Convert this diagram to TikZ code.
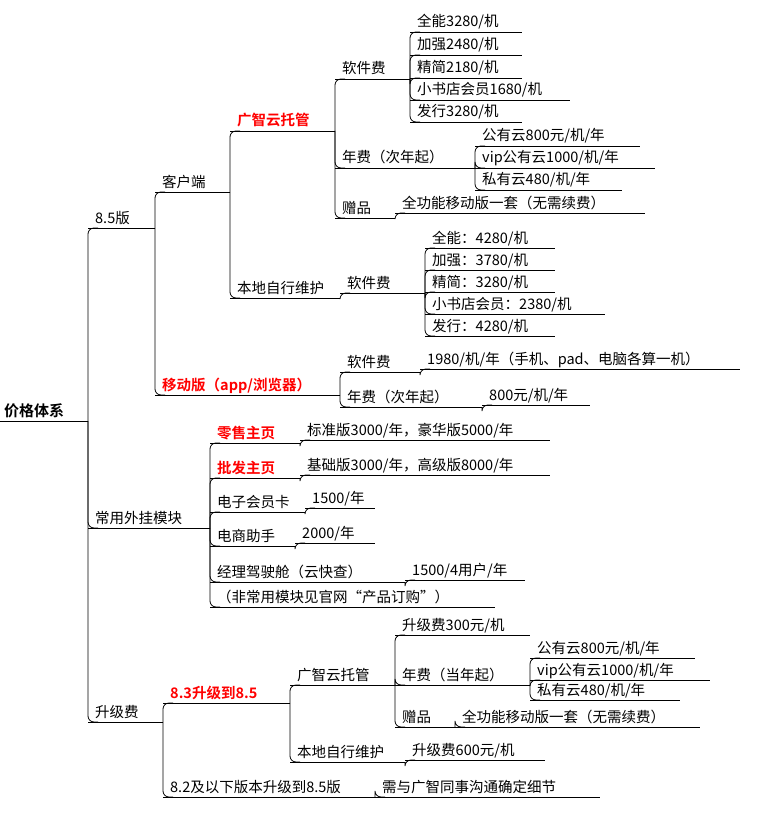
\documentclass[tikz,border=0pt]{standalone}
\usepackage{fontspec}
\setmainfont{Noto Sans CJK SC}[BoldFont={Noto Sans CJK SC Bold}]
\usetikzlibrary{calc}
\tikzset{
 lbl/.style={inner sep=0pt,font=\fontsize{14.5}{16}\selectfont,text=black},
 hot/.style={text=red,font=\fontsize{14.5}{16}\selectfont\bfseries},
 rootst/.style={font=\fontsize{15}{17}\selectfont\bfseries},
 ln/.style={draw=black,line width=0.8pt},
 cn/.style={draw=black,line width=0.8pt,rounded corners=6pt}
}
\newcommand\mi[6]{%
 \coordinate (#1-s) at (#2,#4); \coordinate (#1-e) at (#3,#4);
 \node[lbl,#5,anchor=base west] (#1) at (#2+7,#4-5) {#6};
 \draw[ln] (#1-s) -- (#1-e);}
\newcommand\cn[2]{\draw[cn] (#1-e) |- ($(#2-s)+(10,0)$);}
\begin{document}
\begin{tikzpicture}[x=1pt,y=-1pt]
\useasboundingbox (0,0) rectangle (758,829);
\node[lbl,rootst,anchor=base west] (root) at (4,416) {价格体系};
\coordinate (root-e) at (88,421); \draw[ln] (0,421) -- (root-e);
\mi{v85}{88}{155}{228}{}{8.5版}
\mi{plug}{88}{210}{528}{}{常用外挂模块}
\mi{upg}{88}{163}{722}{}{升级费}
\cn{root}{v85}\cn{root}{plug}\cn{root}{upg}
\mi{kh}{155}{230}{192}{}{客户端}
\mi{yd}{155}{340}{395}{hot}{移动版（app/浏览器）}
\cn{v85}{kh}\cn{v85}{yd}
\mi{gz}{230}{335}{131}{hot}{广智云托管}
\mi{bd}{230}{340}{298}{}{本地自行维护}
\cn{kh}{gz}\cn{kh}{bd}
\mi{rj}{335}{410}{79}{}{软件费}
\mi{nf}{335}{475}{168}{}{年费（次年起）}
\mi{zp}{335}{395}{218}{}{赠品}
\cn{gz}{rj}\cn{gz}{nf}\cn{gz}{zp}
\mi{a1}{410}{522}{32}{}{全能3280/机}
\mi{a2}{410}{522}{55}{}{加强2480/机}
\mi{a3}{410}{522}{78}{}{精简2180/机}
\mi{a4}{410}{570}{100}{}{小书店会员1680/机}
\mi{a5}{410}{522}{122}{}{发行3280/机}
\cn{rj}{a1}\cn{rj}{a2}\cn{rj}{a3}\cn{rj}{a4}\cn{rj}{a5}
\mi{b1}{475}{640}{146}{}{公有云800元/机/年}
\mi{b2}{475}{655}{168}{}{vip公有云1000/机/年}
\mi{b3}{475}{622}{190}{}{私有云480/机/年}
\cn{nf}{b1}\cn{nf}{b2}\cn{nf}{b3}
\mi{c1}{395}{645}{213}{}{全功能移动版一套（无需续费）}
\cn{zp}{c1}
\mi{rj2}{340}{425}{293}{}{软件费}
\cn{bd}{rj2}
\mi{d1}{425}{555}{248}{}{全能：4280/机}
\mi{d2}{425}{555}{270}{}{加强：3780/机}
\mi{d3}{425}{555}{292}{}{精简：3280/机}
\mi{d4}{425}{605}{314}{}{小书店会员：2380/机}
\mi{d5}{425}{555}{336}{}{发行：4280/机}
\cn{rj2}{d1}\cn{rj2}{d2}\cn{rj2}{d3}\cn{rj2}{d4}\cn{rj2}{d5}
\mi{rj3}{340}{420}{372}{}{软件费}
\mi{nf3}{340}{482}{407}{}{年费（次年起）}
\cn{yd}{rj3}\cn{yd}{nf3}
\mi{e1}{420}{740}{369}{}{1980/机/年（手机、pad、电脑各算一机）}
\mi{e2}{482}{590}{405}{}{800元/机/年}
\cn{rj3}{e1}\cn{nf3}{e2}
\mi{p1}{210}{300}{443}{hot}{零售主页}
\mi{p2}{210}{300}{478}{hot}{批发主页}
\mi{p3}{210}{305}{512}{}{电子会员卡}
\mi{p4}{210}{295}{546}{}{电商助手}
\mi{p5}{210}{405}{582}{}{经理驾驶舱（云快查）}
\mi{p6}{210}{495}{607}{}{（非常用模块见官网“产品订购”）}
\cn{plug}{p1}\cn{plug}{p2}\cn{plug}{p3}\cn{plug}{p4}\cn{plug}{p5}\cn{plug}{p6}
\mi{q1}{300}{550}{440}{}{标准版3000/年，豪华版5000/年}
\mi{q2}{300}{550}{475}{}{基础版3000/年，高级版8000/年}
\mi{q3}{305}{375}{508}{}{1500/年}
\mi{q4}{295}{375}{543}{}{2000/年}
\mi{q5}{405}{525}{580}{}{1500/4用户/年}
\cn{p1}{q1}\cn{p2}{q2}\cn{p3}{q3}\cn{p4}{q4}\cn{p5}{q5}
\mi{u1}{163}{290}{703}{hot}{8.3升级到8.5}
\mi{u2}{163}{375}{797}{}{8.2及以下版本升级到8.5版}
\cn{upg}{u1}\cn{upg}{u2}
\mi{g2}{290}{395}{685}{}{广智云托管}
\mi{l2}{290}{405}{762}{}{本地自行维护}
\cn{u1}{g2}\cn{u1}{l2}
\mi{h1}{395}{530}{635}{}{升级费300元/机}
\mi{h2}{395}{530}{685}{}{年费（当年起）}
\mi{h3}{395}{455}{727}{}{赠品}
\cn{g2}{h1}\cn{g2}{h2}\cn{g2}{h3}
\mi{i1}{530}{695}{658}{}{公有云800元/机/年}
\mi{i2}{530}{710}{680}{}{vip公有云1000/机/年}
\mi{i3}{530}{680}{700}{}{私有云480/机/年}
\cn{h2}{i1}\cn{h2}{i2}\cn{h2}{i3}
\mi{j1}{455}{700}{727}{}{全功能移动版一套（无需续费）}
\cn{h3}{j1}
\mi{k1}{405}{545}{760}{}{升级费600元/机}
\cn{l2}{k1}
\mi{m1}{375}{600}{797}{}{需与广智同事沟通确定细节}
\cn{u2}{m1}
\end{tikzpicture}
\end{document}
